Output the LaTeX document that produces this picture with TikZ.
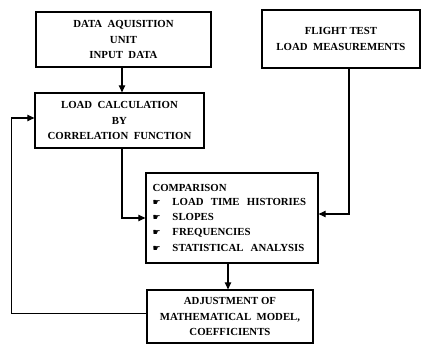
\documentclass[tikz,border=0pt]{standalone}
\usepackage{fontspec}
\setmainfont{Liberation Serif}
\newfontfamily\symfont{DejaVu Sans}
\usetikzlibrary{arrows.meta}
\tikzset{
  box/.style={draw, line width=1.3pt, inner sep=0pt, align=center,
    font=\bfseries\fontsize{10.8}{15.3}\selectfont},
  conn/.style={line width=1.2pt},
  arr/.style={conn, -{Triangle[length=7pt,width=6.5pt]}},
}
\newcommand{\hand}{\makebox[20pt][l]{\symfont\fontsize{9}{9}\selectfont ☛}}
\begin{document}
\begin{tikzpicture}[x=1pt,y=-1pt]
\useasboundingbox (0,0) rectangle (424,345);
\node[box, minimum width=175pt, minimum height=55pt] (daq) at (123.5,39.5)
  {DATA\ \ AQUISITION\\UNIT\\INPUT\ \ DATA};
\node[box, minimum width=169pt, minimum height=55pt] (calc) at (119.5,120.5)
  {LOAD\ \ CALCULATION\\BY\\CORRELATION\ \ FUNCTION};
\node[box, minimum width=158pt, minimum height=58pt] (flight) at (341,39)
  {FLIGHT TEST\\LOAD\ \ MEASUREMENTS};
\node[box, minimum width=172pt, minimum height=90pt, align=left, text width=159pt] (comp) at (232,218)
  {\raisebox{-2pt}{COMPARISON}\\\hand LOAD\ \ TIME\ \ HISTORIES\\\hand SLOPES\\\hand FREQUENCIES\\\hand STATISTICAL\ \ ANALYSIS};
\node[box, minimum width=166pt, minimum height=53pt] (adj) at (230,316.5)
  {ADJUSTMENT OF\\MATHEMATICAL\ \ MODEL,\\COEFFICIENTS};
\draw[arr] ([xshift=-1.5pt]daq.south) -- ([xshift=-1.5pt]daq.south |- calc.north);
\draw[arr] ([xshift=2.5pt]calc.south) |- (comp.west);
\draw[arr] ([xshift=8pt]flight.south) |- ([yshift=4pt]comp.east);
\draw[arr] ([xshift=-4pt]comp.south) -- ([xshift=-4pt]comp.south |- adj.north);
\draw[arr] ([yshift=3pt]adj.west) -- ++(-135,0) |- ([yshift=2.5pt]calc.west);
\end{tikzpicture}
\end{document}
